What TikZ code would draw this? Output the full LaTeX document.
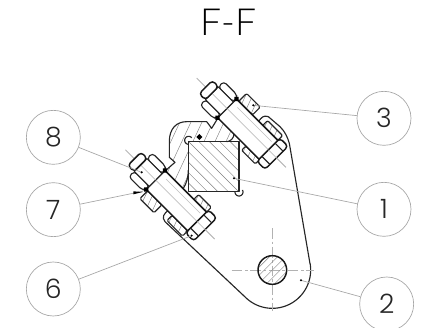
\documentclass[tikz,border=0pt]{standalone}
\usepackage{fontspec}
\setmainfont{Poppins}[UprightFont=* Light]
\newfontfamily\titlef{Lato}[UprightFont=* Light]
\tikzset{
  px/.style={x=0.25pt,y=-0.25pt},
  obj/.style={draw=black!85,line width=0.85pt,line join=round},
  thick obj/.style={draw=black!90,line width=1.1pt,line join=round},
  hatchline/.style={draw=black!50,line width=0.33pt},
  leader/.style={draw=black!35,line width=0.5pt},
  balloon/.style={circle,draw=black!35,line width=0.5pt,minimum size=40.5pt,inner sep=0pt,font=\fontsize{20}{20}\selectfont,text=black!85},
  axisline/.style={draw=black!25,line width=0.45pt},
  centerl/.style={draw=black!30,line width=0.4pt,dash pattern=on 8pt off 2pt on 2pt off 2pt},
  dotm/.style={fill=black,draw=none},
}
\newcommand{\hatchfill}[5]{%
  \begin{scope}[shift={(#1,#2)},rotate=#3]
    \foreach \k in {-#5,...,#5}{\draw[hatchline] (-500,\k*#4) -- (500,\k*#4);}
  \end{scope}}
\newcommand{\hatchbox}[4]{%
  \begin{scope}
    \clip (#1,#2) rectangle (#3,#4);
    \hatchfill{#1}{#2}{110}{19}{12}
  \end{scope}
  \draw[obj,rounded corners=1pt] (#1,#2) rectangle (#3,#4);}
\newcommand{\boltparts}{%
  \draw[axisline] (-128,0) -- (250,0);
  \draw[thick obj,fill=white] (0,-40) rectangle (176,40);
  \draw[axisline] (-128,0) -- (250,0);
  \draw[axisline] (20,-24) -- (165,-24);
  \draw[obj,fill=white,rounded corners=2.5pt] (-64,-50) -- (-8,-50) -- (0,-40) -- (0,-27) -- (-64,-27) -- cycle;
  \draw[obj,fill=white,rounded corners=2.5pt] (-64,50) -- (-8,50) -- (0,40) -- (0,27) -- (-64,27) -- cycle;
  \draw[obj,fill=white] (-64,-27) rectangle (0,27);
  \draw[axisline] (-64,0) -- (0,0);
  \draw[thick obj,fill=white,rounded corners=2.5pt] (-90,-28) rectangle (-64,28);
  \draw[thick obj,fill=white,rounded corners=2.5pt] (176,-49) rectangle (210,49);
  \draw[obj] (176,-28) -- (210,-28) (176,28) -- (210,28);
  \draw[axisline] (176,0) -- (250,0);
  \fill[dotm] (-9,-40) -- (0,-49) -- (9,-40) -- (0,-31) -- cycle (-9,40) -- (0,31) -- (9,40) -- (0,49) -- cycle;
}
\begin{document}
\begin{tikzpicture}[px]
\useasboundingbox (0,0) rectangle (1278,984);
\clip (0,0) rectangle (1278,984);
\fill[white] (0,0) rectangle (1278,984);

\node[font=\titlef\fontsize{28}{28}\selectfont,text=black] (title) at (685,66) {F-F};

\draw[obj] (495,665) .. controls (484,652) and (492,640) .. (506,630) -- (540,600)
   (805,350) .. controls (790,345) and (785,352) .. (775,365)
   (805,350) -- (840,380) .. controls (855,395) and (862,410) .. (868,430) -- (930,791)
   plot[domain=-9.7:135,samples=50] ({817+115*cos(\x)},{810+115*sin(\x)})
   -- (495,665);

\draw[centerl] (817,685) -- (817,932) (695,810) -- (942,810);
\begin{scope}
  \clip (817,810) circle (43);
  \hatchfill{817}{810}{45}{17}{4}
\end{scope}
\draw[thick obj] (817,810) circle (43);

\begin{scope}
  \clip (495,513) -- (525,487) -- (508,472) -- (508,425) .. controls (508,385) and (530,365) .. (560,365) -- (620,365) -- (635,385) -- (655,352) -- (702,400) .. controls (703,415) and (690,425) .. (680,425) -- (565,425) -- (565,510) .. controls (565,530) and (560,550) .. (550,565) -- cycle;
  \hatchfill{600}{450}{65}{30}{9}
\end{scope}
\draw[obj] (495,513) -- (525,487) -- (508,472) -- (508,425) .. controls (508,385) and (530,365) .. (560,365) -- (620,365) -- (635,385) -- (655,352)
   (702,400) .. controls (703,415) and (690,425) .. (680,425)
   (565,510) .. controls (565,530) and (560,550) .. (550,565);
\draw[obj] plot[domain=90:320,samples=20] ({566+12*cos(\x)},{421+12*sin(\x)});
\fill[dotm] (598,402) -- (607,411) -- (598,420) -- (589,411) -- cycle;

\begin{scope}
  \clip (565,425) rectangle (717,575);
  \hatchfill{641}{500}{-45}{22}{10}
\end{scope}
\draw[obj] (565,425) rectangle (717,575);
\draw[obj] plot[domain=-30:180,samples=20] ({717+12*cos(\x)},{576+12*sin(\x)});

\begin{scope}[shift={(681,325)},rotate=-45]
  \hatchbox{10}{-73}{68}{-40}
  \hatchbox{120}{40}{178}{58}
  \hatchbox{112}{-60}{176}{-40}
  \boltparts
\end{scope}
\begin{scope}[shift={(467,540)},rotate=-45]
  \hatchbox{6}{40}{66}{73}
  \hatchbox{110}{40}{176}{62}
  \hatchbox{122}{-60}{176}{-40}
  \boltparts
\end{scope}

\node[balloon] (n8) at (160,412) {8};
\node[balloon] (n7) at (160,629) {7};
\node[balloon] (n6) at (160,867) {6};
\node[balloon] (n3) at (1152,355) {3};
\node[balloon] (n1) at (1152,628) {1};
\node[balloon] (n2) at (1160,912) {2};
\coordinate (d8) at (425,517);
\coordinate (d7) at (428,574);
\coordinate (d6) at (575,707);
\coordinate (d3) at (760,316);
\coordinate (d1) at (702,535);
\coordinate (d2) at (903,841);
\draw[leader] (n8) -- (d8);
\draw[leader] (n7) -- (d7);
\draw[leader] (n6) -- (d6);
\draw[leader] (n3) -- (d3);
\draw[leader] (n1) -- (d1);
\draw[leader] (n2) -- (d2);
\foreach \d in {d8,d6,d3,d1,d2}{\fill[dotm] (\d) circle (3.5);}
\fill[dotm] (400,574) -- (400,583) -- (428,576) -- cycle;
\end{tikzpicture}
\end{document}
